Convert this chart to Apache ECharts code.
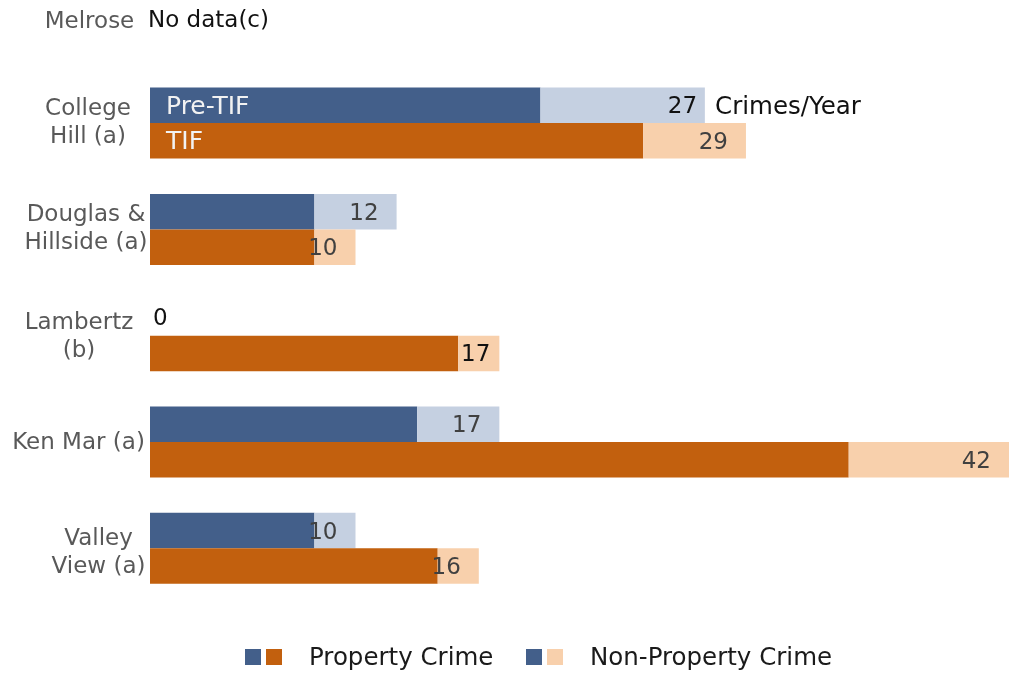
<!DOCTYPE html>
<html>
<head>
<meta charset="utf-8">
<script src="https://cdn.jsdelivr.net/npm/echarts@6/dist/echarts.min.js"></script>
<style>
  html, body { margin: 0; padding: 0; background: #ffffff; }
  #chart { width: 1009px; height: 673px; }
</style>
</head>
<body>
<div id="chart"></div>
<script>
// Crimes per year by neighbourhood, before and during the TIF period
const categories = ['Melrose', 'College\nHill (a)', 'Douglas &\nHillside (a)', 'Lambertz\n(b)', 'Ken Mar (a)', 'Valley\nView (a)'];
const preTotal    = [null, 27, 12, 0, 17, 10];
const preProperty = [null, 19, 8, 0, 13, 8];
const tifTotal    = [null, 29, 10, 17, 42, 16];
const tifProperty = [null, 24, 8, 15, 34, 14];
const legendNames = ['Property Crime', 'Non-Property Crime'];
const noDataNote = 'No data(c)';
const unitNote = 'Crimes/Year';

const FONT = 'DejaVu Sans';
const C = {
  preProp: '#435F8A', preNon: '#C5D0E1',
  tifProp: '#C2600E', tifNon: '#F8D0AC',
  axis: '#595959', value: '#404040', dark: '#111111'
};

const diff = (tot, prop) => tot.map((t, i) => (t == null ? null : t - prop[i]));
const preNon = diff(preTotal, preProperty);
const tifNon = diff(tifTotal, tifProperty);

// per-category label nudges: horizontal box padding and a vertical drop (px)
const catPad = [[0, 0, 0, 3], [0, 0, 0, 0], [0, 4, 0, 0], [0, 18, 0, 0], [0, 19, 0, 0], [0, 0, 0, 21]];
const catDrop = [5, 0, 0, 1, 1, 5];

const catRich = {};
catDrop.forEach((d, i) => {
  catRich['c' + i] = { fontFamily: FONT, fontSize: 23, color: C.axis, lineHeight: 28, padding: [d * 2, 0, 0, 0] };
});

const baseLabel = {
  show: true, position: 'insideRight', distance: 18, offset: [0, 2],
  fontFamily: FONT, fontSize: 23, color: C.value
};

function propData(vals, tag) {
  return vals.map((v, i) => {
    if (i === 1) {
      return { value: v, label: { show: true, position: 'insideLeft', distance: 16, offset: [0, 2], formatter: tag,
        fontFamily: FONT, fontSize: 25, color: '#F2F2F2' } };
    }
    return v;
  });
}

function nonData(vals, totals, overrides) {
  return vals.map((v, i) => {
    const item = { value: v, label: Object.assign({}, baseLabel, { formatter: String(totals[i]) }) };
    if (overrides[i]) Object.assign(item.label, overrides[i]);
    return item;
  });
}

const preOverrides = {
  1: { position: 'right', distance: 0, offset: [-37, 2], color: C.dark,
       formatter: '{v|' + preTotal[1] + '}{u|' + unitNote + '}',
       rich: { v: { fontFamily: FONT, fontSize: 23, color: C.dark },
               u: { fontFamily: FONT, fontSize: 24.5, color: C.dark, padding: [0, 0, 0, 18] } } },
  3: { position: 'right', distance: 3, offset: [0, 1], color: C.dark }
};
const tifOverrides = {
  3: { distance: 9, color: C.dark }
};

const chart = echarts.init(document.getElementById('chart'), null, { renderer: 'canvas' });

const option = {
  animation: false,
  backgroundColor: '#ffffff',
  grid: { left: 150, right: 0, top: -36.4, bottom: 71.5, containLabel: false, outerBoundsMode: 'none' },
  xAxis: { type: 'value', min: 0, max: 41.8, show: false },
  yAxis: {
    type: 'category', inverse: true,
    data: categories.map((c, i) => ({ value: c, textStyle: { align: 'center', padding: catPad[i] } })),
    axisLine: { show: false }, axisTick: { show: false },
    axisLabel: {
      margin: 62, align: 'center', fontFamily: FONT, fontSize: 23, color: C.axis, lineHeight: 28,
      formatter: (value, idx) => value.split('\n').map(l => '{c' + idx + '|' + l + '}').join('\n'),
      rich: catRich
    }
  },
  series: [
    { name: 'Pre-TIF Property', type: 'bar', stack: 'pre', barWidth: 35.5, barGap: '0%',
      itemStyle: { color: C.preProp }, data: propData(preProperty, 'Pre-TIF') },
    { name: 'Pre-TIF Non-Property', type: 'bar', stack: 'pre', barWidth: 35.5, barGap: '0%',
      itemStyle: { color: C.preNon }, data: nonData(preNon, preTotal, preOverrides) },
    { name: 'TIF Property', type: 'bar', stack: 'tif', barWidth: 35.5, barGap: '0%',
      itemStyle: { color: C.tifProp }, data: propData(tifProperty, 'TIF') },
    { name: 'TIF Non-Property', type: 'bar', stack: 'tif', barWidth: 35.5, barGap: '0%',
      itemStyle: { color: C.tifNon }, data: nonData(tifNon, tifTotal, tifOverrides) }
  ]
};
chart.setOption(option);

// note for the category with no data, anchored at its axis position
const p = chart.convertToPixel({ gridIndex: 0 }, [0, categories[0]]);

// legend: paired swatches (pre-TIF / TIF) for each crime type
function legendItem(x, colors, text) {
  return [
    { type: 'rect', shape: { x: x, y: 649, width: 16, height: 16 }, style: { fill: colors[0] } },
    { type: 'rect', shape: { x: x + 21, y: 649, width: 16, height: 16 }, style: { fill: colors[1] } },
    { type: 'text', x: x + 64, y: 659, style: { text: text, fontFamily: FONT, fontSize: 24.5,
        fill: '#1a1a1a', textVerticalAlign: 'middle', verticalAlign: 'middle' } }
  ];
}

chart.setOption({
  graphic: [
    { type: 'text', x: p[0] - 2, y: p[1] + 4, style: { text: noDataNote, fontFamily: FONT, fontSize: 23,
        fill: C.dark, verticalAlign: 'middle', textVerticalAlign: 'middle' } }
  ].concat(legendItem(245, [C.preProp, C.tifProp], legendNames[0]))
   .concat(legendItem(526, [C.preProp, C.tifNon], legendNames[1]))
});
</script>
</body>
</html>
